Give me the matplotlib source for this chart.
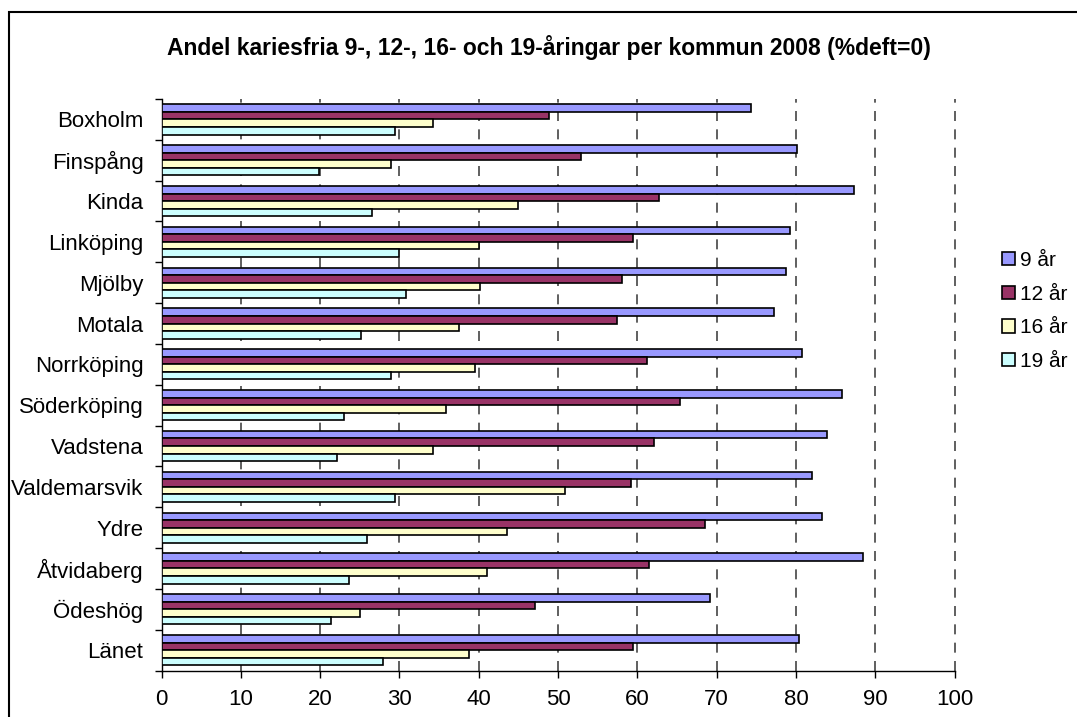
import matplotlib
matplotlib.use("Agg")
import matplotlib.pyplot as plt
from matplotlib.patches import Rectangle
import numpy as np

plt.rcParams["font.family"] = ["Liberation Sans", "DejaVu Sans"]

kommuner = ["Boxholm", "Finspång", "Kinda", "Linköping", "Mjölby", "Motala",
            "Norrköping", "Söderköping", "Vadstena", "Valdemarsvik", "Ydre",
            "Åtvidaberg", "Ödeshög", "Länet"]
ar9 = [74.4, 80.2, 87.3, 79.2, 78.8, 77.3, 80.8, 85.8, 83.9, 82.0, 83.3, 88.4, 69.2, 80.4]
ar12 = [48.9, 52.9, 62.7, 59.4, 58.1, 57.4, 61.2, 65.4, 62.1, 59.2, 68.6, 61.5, 47.1, 59.4]
ar16 = [34.2, 29.0, 44.9, 40.0, 40.2, 37.5, 39.5, 35.9, 34.2, 50.9, 43.6, 41.1, 25.0, 38.8]
ar19 = [29.5, 19.9, 26.6, 29.9, 30.8, 25.2, 29.0, 23.0, 22.1, 29.5, 25.9, 23.7, 21.4, 27.9]
serier = ["9 år", "12 år", "16 år", "19 år"]
farger = ["#9999FF", "#993366", "#FFFFCC", "#CCFFFF"]
xticks = [0, 10, 20, 30, 40, 50, 60, 70, 80, 90, 100]

fig = plt.figure(figsize=(10.77, 7.17), dpi=100)
W, H = 1077, 717
ax = fig.add_axes([161.5 / W, 1 - 670.5 / H, (954.5 - 161.5) / W, (670.5 - 99) / H])

# border around the chart
fig.patches.append(Rectangle((9 / W, -0.05), 1.1, 1 - 12 / H + 0.05, transform=fig.transFigure,
                             fill=False, edgecolor="black", linewidth=1.5))

y = np.arange(len(kommuner))
h = 0.185
for k, (vals, lab, c) in enumerate(zip([ar9, ar12, ar16, ar19], serier, farger)):
    ax.barh(y + (k - 1.5) * h, vals, height=h, color=c, edgecolor="black",
            linewidth=1.2, label=lab, zorder=3)

ax.set_xlim(0, 100)
ax.set_ylim(len(kommuner) - 0.5, -0.5)
ax.set_xticks(xticks)
ax.set_xticklabels([str(t) for t in xticks], fontsize=16)
ax.set_yticks(y)
ax.set_yticklabels(kommuner, fontsize=16)
ax.set_yticks(np.arange(len(kommuner) + 1) - 0.5, minor=True)
ax.tick_params(axis="y", which="major", length=0, pad=13)
ax.tick_params(axis="y", which="minor", length=5, width=1, direction="out")
ax.tick_params(axis="x", length=5, width=1, direction="out", pad=8)

for t in xticks[1:]:
    ax.axvline(t, color="#444444", linewidth=1.2, linestyle=(0, (6, 5)), zorder=1, clip_on=False)

for s in ["top", "right"]:
    ax.spines[s].set_visible(False)
ax.spines["left"].set_linewidth(1)
ax.spines["bottom"].set_linewidth(1)

fig.text(549 / W, 1 - 48 / H, "Andel kariesfria 9-, 12-, 16- och 19-åringar per kommun 2008 (%deft=0)",
         ha="center", va="center", fontsize=16.5, fontweight="bold")

fig.legend(loc="center left", bbox_to_anchor=(1002 / W, 1 - 311 / H), frameon=False,
           fontsize=15, handlelength=0.6, handleheight=0.6, handletextpad=0.25,
           labelspacing=0.7, borderpad=0, borderaxespad=0)

fig.savefig("out.png", dpi=100)
